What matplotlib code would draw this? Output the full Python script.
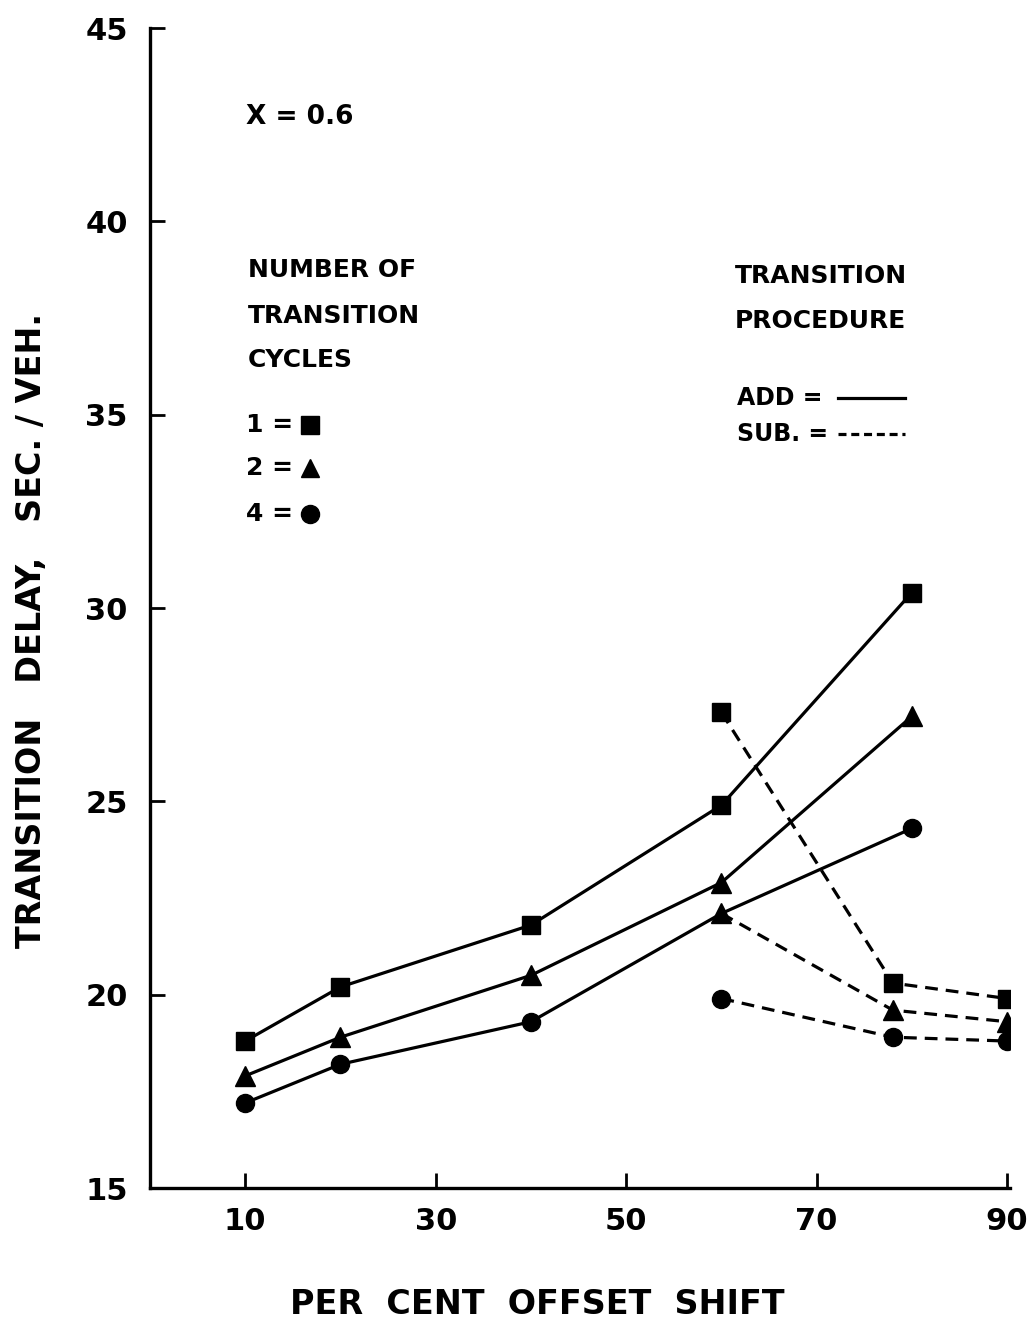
#!/usr/bin/env python3
# -*- coding: utf-8 -*-
import matplotlib
matplotlib.use("Agg")
import matplotlib.pyplot as plt

# x = per cent offset shift, y = transition delay (sec/veh)
add_x = [10, 20, 40, 60, 80]
add_sq = [18.8, 20.2, 21.8, 24.9, 30.4]   # 1 cycle
add_tri = [17.9, 18.9, 20.5, 22.9, 27.2]  # 2 cycles
add_circ = [17.2, 18.2, 19.3, 22.1, 24.3] # 4 cycles

sub_x = [60, 78, 90]
sub_sq = [27.3, 20.3, 19.9]
sub_tri = [22.1, 19.6, 19.3]
sub_circ = [19.9, 18.9, 18.8]

xticks = [10, 30, 50, 70, 90]
yticks = [15, 20, 25, 30, 35, 40, 45]

plt.rcParams['font.family'] = ['DejaVu Sans']
plt.rcParams['font.weight'] = 'bold'

W, H = 1031, 1325
fig = plt.figure(figsize=(W / 100, H / 100), dpi=100)
ax = fig.add_axes([150 / W, 1 - 1188 / H, (1010 - 150) / W, (1188 - 28) / H])

lw = 2.3
ms = 13
dash = (4, 2.5)

ax.plot(add_x, add_sq, '-', color='black', lw=lw, marker='s', ms=ms)
ax.plot(add_x, add_tri, '-', color='black', lw=lw, marker='^', ms=ms + 1)
# at 60 % the circle sits under the SUB triangle, only the triangle shows
ax.plot(add_x, add_circ, '-', color='black', lw=lw, marker='o', ms=ms,
        markevery=[0, 1, 2, 4])

ax.plot(sub_x, sub_sq, '--', dashes=dash, color='black', lw=lw, marker='s', ms=ms)
ax.plot(sub_x, sub_tri, '--', dashes=dash, color='black', lw=lw, marker='^', ms=ms + 1)
ax.plot(sub_x, sub_circ, '--', dashes=dash, color='black', lw=lw, marker='o', ms=ms)

ax.set_xlim(0, 90.3)
ax.set_ylim(15, 45)
ax.set_xticks(xticks)
ax.set_yticks(yticks)
ax.tick_params(direction='in', length=11, width=2, labelsize=22)
ax.tick_params(axis='x', pad=14)
ax.tick_params(axis='y', pad=16)
for s in ['top', 'right']:
    ax.spines[s].set_visible(False)
for s in ['left', 'bottom']:
    ax.spines[s].set_linewidth(2.4)

# annotations, in figure pixels
def ftext(x, y, s, size=18, **kw):
    fig.text(x / W, 1 - y / H, s, fontsize=size, va='center', **kw)

ftext(246, 117, "X = 0.6", size=19)
ftext(248, 270, "NUMBER OF")
ftext(248, 316, "TRANSITION")
ftext(248, 360, "CYCLES")
ftext(246, 425, "1 =")
ftext(246, 468, "2 =")
ftext(246, 514, "4 =")
ftext(735, 276, "TRANSITION")
ftext(735, 321, "PROCEDURE")
ftext(737, 398, "ADD =", size=17)
ftext(737, 434, "SUB. =", size=17)

tf = fig.transFigure
for mk, yy in zip(['s', '^', 'o'], [425, 468, 514]):
    ax.plot([310 / W], [1 - yy / H], marker=mk, color='black', ms=ms,
            transform=tf, clip_on=False)
ax.plot([838 / W, 905 / W], [1 - 398 / H] * 2, '-', color='black', lw=2.3,
        transform=tf, clip_on=False)
ax.plot([838 / W, 905 / W], [1 - 434 / H] * 2, '--', dashes=(2.5, 1.5),
        color='black', lw=2.3, transform=tf, clip_on=False)

fig.text(32 / W, 1 - 630 / H, "TRANSITION   DELAY,   SEC. / VEH.", fontsize=24,
         rotation=90, ha='center', va='center')
fig.text(537 / W, 1 - 1305 / H, "PER  CENT  OFFSET  SHIFT", fontsize=24,
         ha='center', va='center')

fig.savefig("out.png", dpi=100)
